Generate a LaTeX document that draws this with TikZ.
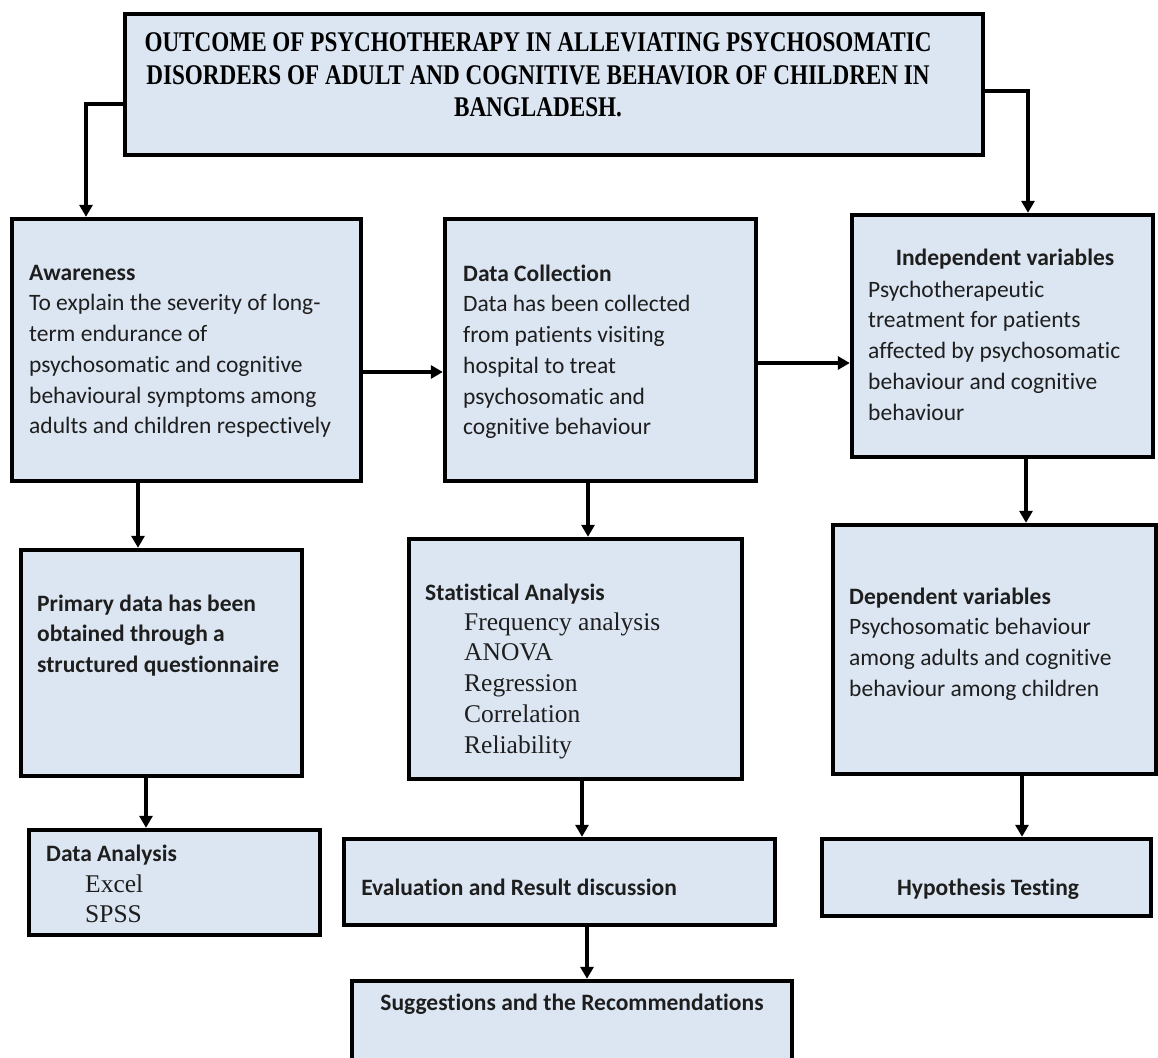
\documentclass[tikz,border=0pt]{standalone}
\usepackage{fontspec}
\usepackage{graphicx}
\setmainfont{Carlito}[RawFeature={-liga;-clig;-calt;-dlig}]
\newfontfamily\tms{Liberation Serif}
\usetikzlibrary{arrows.meta}
\definecolor{boxfill}{HTML}{DCE6F2}
\definecolor{tcol}{HTML}{1E1E1E}
\newsavebox\ttlbox
\newdimen\ttlw
\newcommand\calfont{\fontsize{23.5}{30.75}\selectfont}
\newcommand\tmsfont{\tms\fontsize{25.5}{30.9}\selectfont}
\newcommand\blk[2]{{#1\begin{tabular}[t]{@{}l@{}}#2\end{tabular}}}
\tikzset{
  bx/.style={draw=black, fill=boxfill, line width=4.4pt, inner sep=0pt, rectangle},
  cn/.style={draw=black, line width=3.4pt, -{Triangle[width=13pt,length=12pt]}},
  txt/.style={inner sep=0pt, text=tcol, anchor=base west},
  ctxt/.style={inner sep=0pt, text=tcol, anchor=base},
}
\begin{document}
\sbox\ttlbox{\bfseries\tms\fontsize{28.5}{33}\selectfont OUTCOME OF PSYCHOTHERAPY IN ALLEVIATING PSYCHOSOMATIC}%
\global\ttlw=\wd\ttlbox
\pgfmathsetmacro\tsx{787/\ttlw}%
\global\let\tsx\tsx
\begin{tikzpicture}[x=1pt,y=-1pt]
\useasboundingbox (0,0) rectangle (1158,1057);
% boxes
\node[bx, minimum width=858, minimum height=141] (top) at (554,84.5) {};
\node[bx, minimum width=349, minimum height=262] (aw) at (186.5,350) {};
\node[bx, minimum width=311, minimum height=262] (dc) at (600.5,350) {};
\node[bx, minimum width=301, minimum height=242] (iv) at (1002.5,336) {};
\node[bx, minimum width=281, minimum height=226] (pr) at (161.5,663) {};
\node[bx, minimum width=291, minimum height=105] (da) at (174.5,882.5) {};
\node[bx, minimum width=333, minimum height=240] (st) at (575.5,659) {};
\node[bx, minimum width=431, minimum height=86] (ev) at (559.5,882) {};
\node[bx, minimum width=440, minimum height=87] (su) at (572,1024.5) {};
\node[bx, minimum width=323, minimum height=249] (dv) at (994.5,649.5) {};
\node[bx, minimum width=329, minimum height=77] (hy) at (986.5,877.5) {};
% connectors
\coordinate (k1) at (86,104);
\draw[cn] (top.west |- k1) -- (k1) -- (k1 |- aw.north);
\coordinate (k2) at (1028,91);
\draw[cn] (top.east |- k2) -- (k2) -- (k2 |- iv.north);
\coordinate (k3) at (0,372);
\draw[cn] (aw.east |- k3) -- (dc.west |- k3);
\coordinate (k4) at (0,363);
\draw[cn] (dc.east |- k4) -- (iv.west |- k4);
\coordinate (k5) at (138,0);
\draw[cn] (aw.south -| k5) -- (pr.north -| k5);
\coordinate (k6) at (146,0);
\draw[cn] (pr.south -| k6) -- (da.north -| k6);
\coordinate (k7) at (588,0);
\draw[cn] (dc.south -| k7) -- (st.north -| k7);
\coordinate (k8) at (582,0);
\draw[cn] (st.south -| k8) -- (ev.north -| k8);
\coordinate (k9) at (587,0);
\draw[cn] (ev.south -| k9) -- (su.north -| k9);
\coordinate (k10) at (1026,0);
\draw[cn] (iv.south -| k10) -- (dv.north -| k10);
\coordinate (k11) at (1022,0);
\draw[cn] (dv.south -| k11) -- (hy.north -| k11);
% texts
\node[inner sep=0pt, anchor=base, text=black] (ttl) at (538,52) {\scalebox{\tsx}[1]{\bfseries\tms\fontsize{28.5}{32.5}\selectfont\begin{tabular}[t]{@{}c@{}}OUTCOME OF PSYCHOTHERAPY IN ALLEVIATING PSYCHOSOMATIC\\DISORDERS OF ADULT AND COGNITIVE BEHAVIOR OF CHILDREN IN\\BANGLADESH.\end{tabular}}};
\node[txt] (awt) at (29,280) {\blk{\calfont}{\textbf{Awareness}\\To explain the severity of long-\\term endurance of\\psychosomatic and cognitive\\behavioural symptoms among\\adults and children respectively}};
\node[txt] (dct) at (463,281) {\blk{\calfont}{\textbf{Data Collection}\\Data has been collected\\from patients visiting\\hospital to treat\\psychosomatic and\\cognitive behaviour}};
\node[ctxt] (ivh) at (1005,265) {\calfont\bfseries Independent variables};
\node[txt] (ivt) at (868,297) {\blk{\calfont}{Psychotherapeutic\\treatment for patients\\affected by psychosomatic\\behaviour and cognitive\\behaviour}};
\node[txt] (prt) at (37,611) {\blk{\calfont\bfseries}{Primary data has been\\obtained through a\\structured questionnaire}};
\node[txt] (dah) at (46,861) {\calfont\bfseries Data Analysis};
\node[txt] (dal) at (85,892) {\blk{\tmsfont}{Excel\\SPSS}};
\node[txt] (sth) at (425,600) {\calfont\bfseries Statistical Analysis};
\node[txt] (stl) at (464,630) {\blk{\tmsfont}{Frequency analysis\\ANOVA\\Regression\\Correlation\\Reliability}};
\node[txt] (dvt) at (849,604) {\blk{\calfont}{\textbf{Dependent variables}\\Psychosomatic behaviour\\among adults and cognitive\\behaviour among children}};
\node[ctxt] (hyt) at (988,895) {\calfont\bfseries Hypothesis Testing};
\node[ctxt] (evt) at (519,895) {\calfont\bfseries Evaluation and Result discussion};
\node[ctxt] (sut) at (572,1010) {\calfont\bfseries Suggestions and the Recommendations};
\end{tikzpicture}
\end{document}
